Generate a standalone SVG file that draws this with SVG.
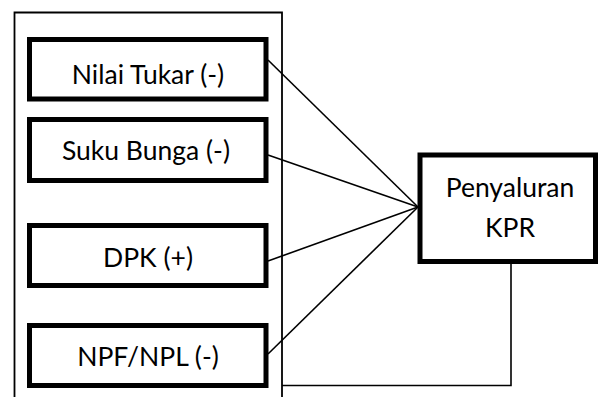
<svg xmlns="http://www.w3.org/2000/svg" width="599" height="397" viewBox="0 0 599 397">
  <style>
    .frame { fill: none; stroke: #000; stroke-width: 1.8; }
    .node rect { fill: #fff; stroke: #000; stroke-width: 5; }
    .node text { font-family: Lato, "Open Sans", sans-serif; font-size: 26.5px; fill: #000; text-anchor: middle; }
    .conn { fill: none; stroke: #000; stroke-width: 1.6; }
  </style>
  <rect width="599" height="397" fill="#fff"/>
  <path class="frame" d="M14.5,400 V12.5 H282 V400"/>
  <g id="connectors">
    <line class="conn" x1="268" y1="60" x2="418" y2="207"/>
    <line class="conn" x1="268" y1="155" x2="418" y2="207"/>
    <line class="conn" x1="268" y1="261" x2="418" y2="207"/>
    <line class="conn" x1="268" y1="354" x2="418" y2="207"/>
    <path class="conn" d="M511,262 V385.5 H282"/>
  </g>
  <g id="nilai-tukar" class="node">
    <rect x="29.5" y="39.5" width="236.5" height="59.5"/>
    <text x="148" y="83.5">Nilai Tukar (-)</text>
  </g>
  <g id="suku-bunga" class="node">
    <rect x="29.5" y="119.5" width="236.5" height="61"/>
    <text x="146" y="160">Suku Bunga (-)</text>
  </g>
  <g id="dpk" class="node">
    <rect x="29.5" y="225.5" width="236.5" height="60"/>
    <text x="148" y="266.5">DPK (+)</text>
  </g>
  <g id="npf-npl" class="node">
    <rect x="29.5" y="325.5" width="236.5" height="60"/>
    <text x="148" y="365.5">NPF/NPL (-)</text>
  </g>
  <g id="penyaluran-kpr" class="node">
    <rect x="420" y="155" width="175.5" height="106.5"/>
    <text x="510" y="197">Penyaluran</text>
    <text x="510" y="237">KPR</text>
  </g>
</svg>
